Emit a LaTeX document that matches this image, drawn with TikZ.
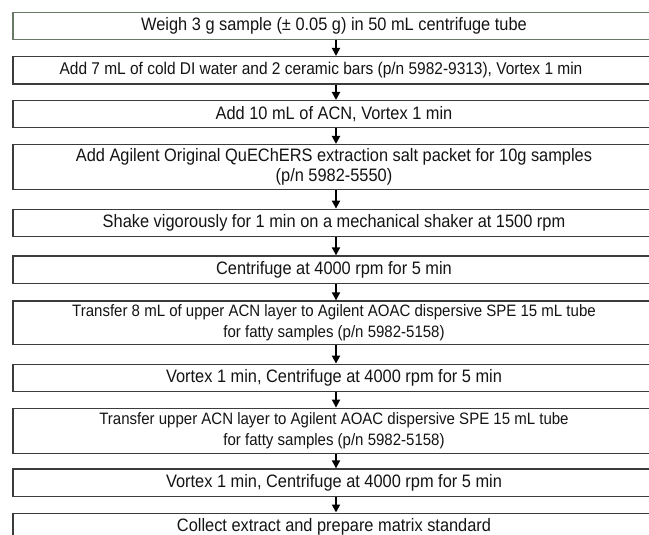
\documentclass[tikz,border=0pt]{standalone}
\usepackage{fontspec}
\setmainfont{Liberation Sans}[FakeStretch=0.91]
\usetikzlibrary{arrows.meta}
\definecolor{boxgray}{HTML}{3C3C3C}
\definecolor{boxgreen}{HTML}{687A66}
\definecolor{inkgray}{HTML}{141414}

\begin{document}
\begin{tikzpicture}[x=1pt, y=-1pt, >={Triangle[width=8pt,length=8pt]},
    box/.style={draw=boxgray, line width=1.4pt, rectangle, minimum width=642pt,
      inner sep=0pt, align=center, text=inkgray, font=\fontsize{18}{20}\selectfont},
    smallbox/.style={box, font=\fontsize{16.5}{20.5}\selectfont},
    flow/.style={->, line width=1.8pt, black}]
    % Page
    \fill[white] (0,0) rectangle (649,535);
    \useasboundingbox (0,0) rectangle (649,535);

    % Steps
    \node[box, draw=boxgreen, minimum height=26.6pt] (weigh) at (334,26) {Weigh 3 g sample (± 0.05 g)  in 50  mL centrifuge tube};
    \node[box, font=\fontsize{17}{20}\selectfont, minimum height=27.3pt] (water) at (334,70.3) {Add 7 mL of cold DI water and 2 ceramic bars (p/n 5982-9313),  Vortex 1 min\hspace*{26pt}};
    \node[box, minimum height=26.6pt] (acn) at (334,114) {Add 10 mL of ACN, Vortex 1 min};
    \node[box, minimum height=44.6pt] (salt) at (334,167) {Add Agilent Original QuEChERS extraction salt packet for 10g samples\\(p/n 5982-5550)};
    \node[box, minimum height=27.4pt] (shake) at (334,223) {Shake vigorously for 1 min on a  mechanical shaker at  1500  rpm};
    \node[box, minimum height=27.3pt] (spin) at (334,269.7) {Centrifuge at 4000 rpm for 5  min};
    \node[smallbox, minimum height=43.3pt] (transfer) at (334,322.7) {Transfer 8 mL of upper ACN layer to Agilent AOAC dispersive SPE 15 mL tube\\for fatty samples (p/n  5982-5158)};
    \node[box, minimum height=27.4pt] (vortex) at (334,378) {Vortex 1 min, Centrifuge at 4000  rpm for 5 min};
    \node[smallbox, minimum height=45pt] (transferb) at (334,430.8) {Transfer upper ACN layer to Agilent AOAC dispersive SPE 15 mL tube\\for fatty samples (p/n  5982-5158)};
    \node[box, minimum height=27.7pt] (vortexb) at (334,482.9) {Vortex 1 min, Centrifuge at 4000  rpm for 5 min};
    \node[box, minimum height=27.6pt] (collect) at (334,527) {Collect extract and prepare matrix standard};

    % Arrows
    \foreach \a/\b in {weigh/water, water/acn, acn/salt, salt/shake, shake/spin,
        spin/transfer, transfer/vortex, vortex/transferb, transferb/vortexb, vortexb/collect}
      \draw[flow] ([xshift=2pt]\a.south) -- ([xshift=2pt]\b.north);

\end{tikzpicture}
\end{document}
